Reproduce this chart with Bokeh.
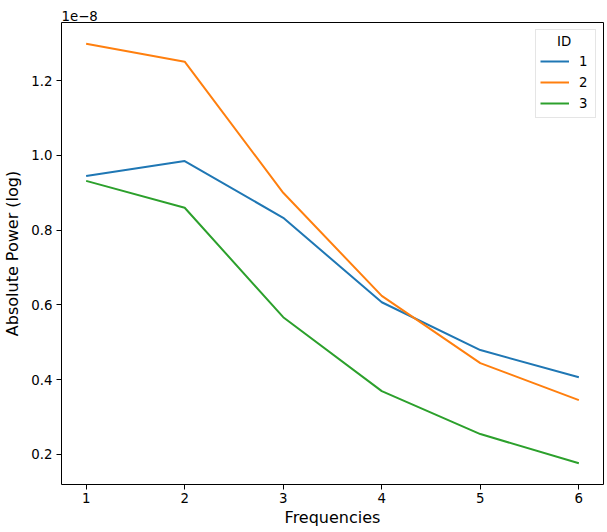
from bokeh.plotting import figure
from bokeh.models import FixedTicker, CustomJSTickFormatter, Legend, LegendItem, Range1d
from bokeh.embed import file_html
from bokeh.resources import INLINE

frequencies = [1, 2, 3, 4, 5, 6]
power_id1 = [0.945e-8, 0.985e-8, 0.833e-8, 0.607e-8, 0.479e-8, 0.406e-8]
power_id2 = [1.299e-8, 1.251e-8, 0.900e-8, 0.624e-8, 0.444e-8, 0.345e-8]
power_id3 = [0.932e-8, 0.860e-8, 0.567e-8, 0.369e-8, 0.254e-8, 0.176e-8]
series_ids = ["1", "2", "3"]
colors = ["#1f77b4", "#ff7f0e", "#2ca02c"]
y_ticks = [0.2e-8, 0.4e-8, 0.6e-8, 0.8e-8, 1.0e-8, 1.2e-8]

FONT = "DejaVu Sans"
TICK_FS = "13.33px"
LABEL_FS = "16px"

W, H = 607, 532
BL, BR, BT, BB = 60, 4, 22, 48

p = figure(width=W, height=H, output_backend="svg", toolbar_location=None,
           x_range=Range1d(0.75, 6.25), y_range=Range1d(0.119e-8, 1.356e-8),
           min_border_left=BL, min_border_right=BR, min_border_top=BT, min_border_bottom=BB)

# offset text of the y axis, just above the top-left corner of the frame
p.title.text = "1e\u22128"
p.title.text_font = FONT
p.title.text_font_size = TICK_FS
p.title.text_font_style = "normal"
p.title.text_color = "black"
p.title.align = "left"
p.title.offset = 0
p.title.standoff = 4

p.grid.visible = False
p.outline_line_color = "black"
p.outline_line_width = 1
p.background_fill_color = "white"

for ax in (p.xaxis[0], p.yaxis[0]):
    ax.axis_line_color = None
    ax.major_tick_line_color = "black"
    ax.major_tick_out = 5
    ax.major_tick_in = 0
    ax.minor_tick_line_color = None
    ax.major_label_text_font = FONT
    ax.major_label_text_font_size = TICK_FS
    ax.major_label_text_color = "black"
    ax.axis_label_text_font = FONT
    ax.axis_label_text_font_size = LABEL_FS
    ax.axis_label_text_font_style = "normal"
    ax.axis_label_text_color = "black"

p.xaxis.ticker = FixedTicker(ticks=frequencies)
p.xaxis.axis_label = "Frequencies"
p.xaxis.axis_label_standoff = 2
p.xaxis.major_label_standoff = 3
p.yaxis.ticker = FixedTicker(ticks=y_ticks)
p.yaxis.formatter = CustomJSTickFormatter(code="return (tick / 1e-8).toFixed(1);")
p.yaxis.axis_label = "Absolute Power (log)"
p.yaxis.axis_label_standoff = 6
p.yaxis.major_label_standoff = 4

items = []
for sid, vals, c in zip(series_ids, [power_id1, power_id2, power_id3], colors):
    r = p.line(frequencies, vals, line_color=c, line_width=2)
    items.append(LegendItem(label=sid, renderers=[r]))

legend = Legend(items=items, location="top_right", title="\u00a0\u00a0\u00a0\u00a0ID")
legend.title_text_font = FONT
legend.title_text_font_size = TICK_FS
legend.title_text_font_style = "normal"
legend.title_text_color = "black"
legend.title_standoff = 2
legend.label_text_font = FONT
legend.label_text_font_size = TICK_FS
legend.label_text_color = "black"
legend.border_line_color = "#cccccc"
legend.border_line_width = 1
legend.background_fill_alpha = 0.8
legend.glyph_width = 29
legend.label_standoff = 10
legend.label_width = 12
legend.spacing = 1
legend.padding = 4
legend.margin = 7
legend.label_height = 20
legend.glyph_height = 20
p.add_layout(legend, "center")

open("out.html", "w").write(file_html(p, INLINE))
